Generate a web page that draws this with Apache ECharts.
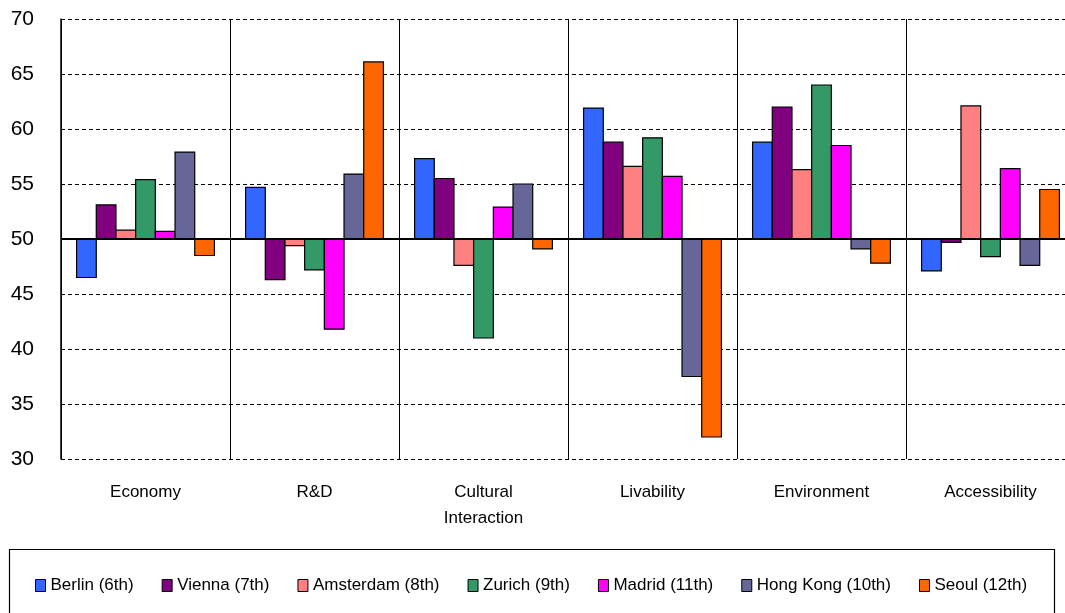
<!DOCTYPE html>
<html>
<head>
<meta charset="utf-8">
<script src="https://cdn.jsdelivr.net/npm/echarts@6/dist/echarts.min.js"></script>
<style>
  html, body { margin: 0; padding: 0; background: #fff; overflow: hidden; }
  /* the plot runs a little past the right edge of the window */
  #chart { width: 1075px; height: 613px; }
</style>
</head>
<body>
<div id="chart"></div>
<script>
// Index scores by dimension; bars are drawn from the 50 baseline.
var categories = ['Economy', 'R&D', 'Cultural\nInteraction', 'Livability', 'Environment', 'Accessibility'];
var yTicks = { min: 30, max: 70, interval: 5 };
var baseline = 50;

var berlin    = [46.5, 54.7, 57.3, 61.9, 58.8, 47.1];
var vienna    = [53.1, 46.3, 55.5, 58.8, 62.0, 49.7];
var amsterdam = [50.8, 49.4, 47.6, 56.6, 56.3, 62.1];
var zurich    = [55.4, 47.2, 41.0, 59.2, 64.0, 48.4];
var madrid    = [50.7, 41.8, 52.9, 55.7, 58.5, 56.4];
var hongKong  = [57.9, 55.9, 55.0, 37.5, 49.1, 47.6];
var seoul     = [48.5, 66.1, 49.1, 32.0, 47.8, 54.5];

var seriesDefs = [
  { name: 'Berlin (6th)',     data: berlin,    color: '#3366FF' },
  { name: 'Vienna (7th)',     data: vienna,    color: '#800080' },
  { name: 'Amsterdam (8th)',  data: amsterdam, color: '#FF8080' },
  { name: 'Zurich (9th)',     data: zurich,    color: '#339966' },
  { name: 'Madrid (11th)',    data: madrid,    color: '#FF00FF' },
  { name: 'Hong Kong (10th)', data: hongKong,  color: '#666699' },
  { name: 'Seoul (12th)',     data: seoul,     color: '#FF6600' }
];

var FONT = '"Liberation Sans", Arial, sans-serif';
var nSeries = seriesDefs.length;
var barFrac = 0.1165; // width of one bar as a share of the category band

function makeRender(sIdx) {
  return function (params, api) {
    var cat = api.value(0);
    var val = api.value(1);
    var band = api.size([1, 0])[0];
    var w = band * barFrac;
    var top = api.coord([cat, val]);
    var base = api.coord([cat, baseline]);
    var x = top[0] + (sIdx - nSeries / 2) * w;
    return {
      type: 'rect',
      shape: {
        x: x,
        y: Math.min(top[1], base[1]),
        width: w,
        height: Math.abs(top[1] - base[1])
      },
      style: api.style({ fill: seriesDefs[sIdx].color, stroke: '#000', lineWidth: 1.2 })
    };
  };
}

var series = seriesDefs.map(function (s, i) {
  return {
    type: 'custom',
    name: s.name,
    renderItem: makeRender(i),
    encode: { x: 0, y: 1 },
    itemStyle: { color: s.color, borderColor: '#000', borderWidth: 1 },
    data: s.data.map(function (v, k) { return [k, v]; }),
    z: 2
  };
});

// Solid reference line at the baseline
series[nSeries - 1].markLine = {
  silent: true,
  symbol: ['none', 'none'],
  label: { show: false },
  lineStyle: { color: '#000', width: 2, type: 'solid' },
  data: [{ yAxis: baseline }],
  z: 5
};

var chart = echarts.init(document.getElementById('chart'), null, { renderer: 'canvas' });
chart.setOption({
  animation: false,
  backgroundColor: '#fff',
  grid: { left: 61, top: 19, right: 0, bottom: 154 },
  xAxis: {
    type: 'category',
    data: categories,
    boundaryGap: true,
    axisLine: { show: false },
    axisTick: { show: false },
    splitLine: { show: true, lineStyle: { color: '#000', width: 1, type: 'solid' } },
    axisLabel: {
      interval: 0,
      margin: 20,
      color: '#000',
      fontFamily: FONT,
      fontSize: 17,
      lineHeight: 26
    }
  },
  yAxis: {
    type: 'value',
    min: yTicks.min,
    max: yTicks.max,
    interval: yTicks.interval,
    axisLine: { show: true, lineStyle: { color: '#000', width: 1.5 } },
    axisTick: { show: false },
    splitLine: { show: true, lineStyle: { color: '#000', width: 1, type: [4, 3] } },
    axisLabel: { color: '#000', fontFamily: FONT, fontSize: 21, margin: 27 }
  },
  legend: {
    left: 35,
    top: 577,
    padding: 0,
    itemWidth: 10,
    itemHeight: 12,
    itemGap: 28,
    icon: 'rect',
    textStyle: { color: '#000', fontFamily: FONT, fontSize: 17 },
    itemStyle: { borderColor: '#000', borderWidth: 1 },
    data: seriesDefs.map(function (s) { return s.name; })
  },
  graphic: [{
    type: 'rect',
    silent: true,
    z: -1,
    shape: { x: 9.5, y: 549.5, width: 1045, height: 70 },
    style: { fill: 'none', stroke: '#000', lineWidth: 1.2 }
  }],
  series: series
});
</script>
</body>
</html>
